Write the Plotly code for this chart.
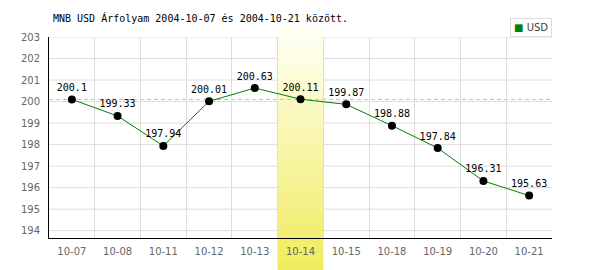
import plotly.graph_objects as go

dates = ["10-07", "10-08", "10-11", "10-12", "10-13", "10-14",
         "10-15", "10-18", "10-19", "10-20", "10-21"]
usd = [200.1, 199.33, 197.94, 200.01, 200.63, 200.11,
       199.87, 198.88, 197.84, 196.31, 195.63]
highlight = "10-14"
y_ticks = list(range(194, 204))
title_text = "MNB USD Árfolyam 2004-10-07 és 2004-10-21 között."

W, H = 600, 270
ml, mr, mt, mb = 49, 48, 37, 32
plot_h = H - mt - mb

fig = go.Figure()
fig.add_trace(go.Scatter(
    x=dates, y=usd, mode="lines+markers+text",
    line=dict(color="#008000", width=1),
    marker=dict(color="#000000", size=8),
    text=[f"{v:g}" for v in usd], textposition="top center",
    textfont=dict(family="DejaVu Sans Mono", size=10, color="#000000"),
    showlegend=False, cliponaxis=False,
))

# horizontal grid lines (as shapes so that the band can cover them)
for v in y_ticks:
    fig.add_shape(type="line", xref="paper", yref="y", x0=0, x1=1,
                  y0=v, y1=v, line=dict(color="#dddddd", width=1),
                  layer="between")

# gradient highlight band (overlapping strips to avoid seams)
hi = dates.index(highlight)
band_top = 1 + 10 / plot_h
band_bot = -(mb) / plot_h
n = 24
step = (band_top - band_bot) / n
c0 = (255, 255, 242)
c1 = (240, 236, 96)
for i in range(n):
    t = i / (n - 1)
    col = tuple(round(c0[k] + (c1[k] - c0[k]) * t) for k in range(3))
    y_hi = band_top - step * i
    y_lo = max(band_bot, y_hi - step * 1.6)
    fig.add_shape(type="rect", xref="x", yref="paper",
                  x0=hi - 0.5, x1=hi + 0.5, y0=y_lo, y1=y_hi,
                  fillcolor="rgb(%d,%d,%d)" % col, line=dict(width=0),
                  layer="between")

# reference dashed line at the starting value
fig.add_shape(type="line", xref="paper", yref="y", x0=0, x1=1,
              y0=usd[0], y1=usd[0],
              line=dict(color="#b8c4b8", width=1, dash="4px,3px"),
              layer="between")

# legend box
fig.add_annotation(
    xref="paper", yref="paper", x=1, y=1, xanchor="right", yanchor="bottom",
    text="<span style='color:#008000'>■</span> USD", showarrow=False,
    font=dict(family="DejaVu Sans", size=10, color="#444444"),
    bordercolor="#dddddd", borderwidth=1, borderpad=3, bgcolor="#ffffff",
    align="left",
)

fig.update_layout(
    width=W, height=H,
    margin=dict(l=ml, r=mr, t=mt, b=mb),
    paper_bgcolor="#ffffff", plot_bgcolor="#ffffff",
    title=dict(text=title_text, x=53 / W, xanchor="left", xref="container",
               y=1 - 18 / H, yanchor="middle", yref="container",
               font=dict(family="DejaVu Sans Mono", size=10, color="#000000")),
    showlegend=False,
)
fig.update_xaxes(
    type="category", categoryorder="array", categoryarray=dates,
    range=[-0.5, len(dates) - 0.5], tickson="boundaries",
    showgrid=True, gridcolor="#dddddd", gridwidth=1,
    showline=True, linecolor="#000000", linewidth=1,
    ticks="", tickfont=dict(family="DejaVu Sans", size=10, color="#666666"),
    ticklabelstandoff=4, zeroline=False,
)
fig.update_yaxes(
    range=[193.66, 203], tickvals=y_ticks,
    showgrid=False,
    showline=True, linecolor="#000000", linewidth=1,
    ticks="", tickfont=dict(family="DejaVu Sans", size=10, color="#666666"),
    ticklabelstandoff=6, zeroline=False,
)

fig.write_html("out.html")
